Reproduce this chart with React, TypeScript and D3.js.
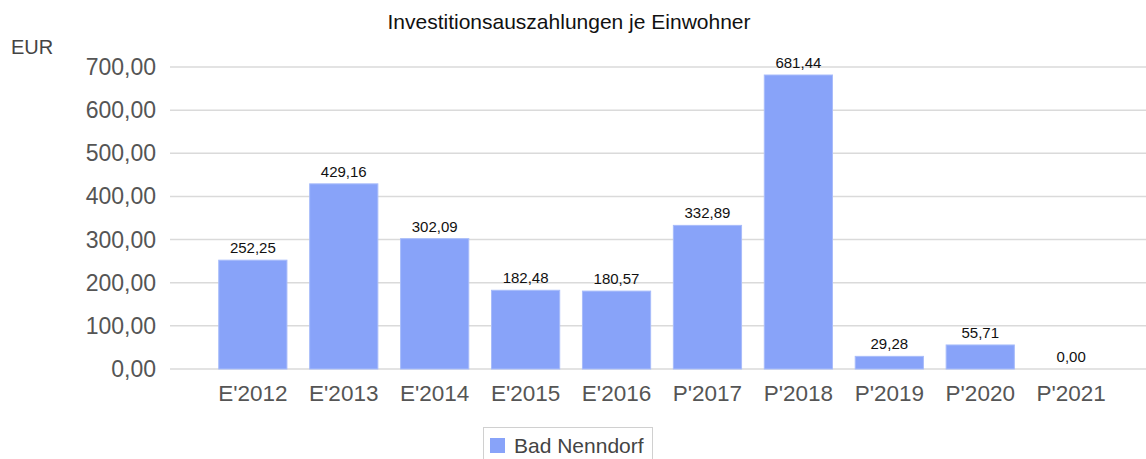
import React from 'react';
import * as d3 from 'd3';

const categories = ["E'2012", "E'2013", "E'2014", "E'2015", "E'2016", "P'2017", "P'2018", "P'2019", "P'2020", "P'2021"];
const values = [252.25, 429.16, 302.09, 182.48, 180.57, 332.89, 681.44, 29.28, 55.71, 0.0];
const yTicks = [0, 100, 200, 300, 400, 500, 600, 700];
const seriesName = 'Bad Nenndorf';
const title = 'Investitionsauszahlungen je Einwohner';
const unit = 'EUR';

const W = 1146;
const H = 459;
const fmt = (v: number) => v.toFixed(2).replace('.', ',');

export default function App() {
  const x = d3.scaleBand<string>()
    .domain(categories)
    .range([196, 1128])
    .paddingInner(0.25)
    .paddingOuter(0.25);
  const y = d3.scaleLinear().domain([0, 700]).range([369, 67]);
  const font = '"Liberation Sans", Arial, sans-serif';

  return (
    <svg width={W} height={H} style={{ position: 'absolute', left: 0, top: 0, background: '#fff' }} fontFamily={font}>
      <text x={569} y={29} textAnchor="middle" fontSize={21} fill="#111">{title}</text>
      <text x={11} y={54} fontSize={20} fill="#444">{unit}</text>

      {yTicks.map((t) => (
        <g key={t}>
          <line x1={170} x2={W} y1={y(t)} y2={y(t)} stroke="#dadada" strokeWidth={1.5} />
          <text x={156} y={y(t) + 8} textAnchor="end" fontSize={23} fill="#555">{fmt(t)}</text>
        </g>
      ))}

      {categories.map((c, i) => (
        <g key={c}>
          <rect
            x={x(c)}
            y={y(values[i])}
            width={x.bandwidth()}
            height={y(0) - y(values[i])}
            fill="#88a3f9"
            stroke="#a8bcfa"
            strokeWidth={1}
          />
          <text x={(x(c) as number) + x.bandwidth() / 2} y={y(values[i]) - 7} textAnchor="middle" fontSize={15} fill="#111">
            {fmt(values[i])}
          </text>
          <text x={(x(c) as number) + x.bandwidth() / 2} y={401} textAnchor="middle" fontSize={22.5} fill="#555">
            {c}
          </text>
        </g>
      ))}

      <g>
        <rect x={483.5} y={427.5} width={169} height={40} fill="#fff" stroke="#d0d0d0" />
        <rect x={490} y={438} width={15} height={15} fill="#88a3f9" />
        <text x={514} y={453} fontSize={21} fill="#444">{seriesName}</text>
      </g>
    </svg>
  );
}
